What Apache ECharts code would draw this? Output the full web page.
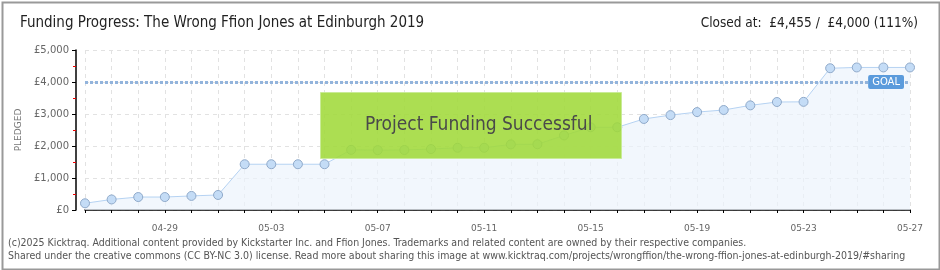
<!DOCTYPE html>
<html>
<head>
<meta charset="utf-8">
<script src="https://cdn.jsdelivr.net/npm/echarts@6/dist/echarts.min.js"></script>
<style>
  html, body { margin: 0; padding: 0; background: #fff; }
  #chart { width: 940px; height: 270px; }
</style>
</head>
<body>
<div id="chart"></div>
<script>
// daily pledged totals (GBP)
const dates = [
  '04-26', '04-27', '04-28', '04-29', '04-30', '05-01', '05-02', '05-03',
  '05-04', '05-05', '05-06', '05-07', '05-08', '05-09', '05-10', '05-11',
  '05-12', '05-13', '05-14', '05-15', '05-16', '05-17', '05-18', '05-19',
  '05-20', '05-21', '05-22', '05-23', '05-24', '05-25', '05-26', '05-27'
];
const pledged = [
  210, 330, 405, 405, 440, 470, 1430, 1430,
  1430, 1430, 1880, 1870, 1875, 1905, 1945, 1945,
  2050, 2055, 2330, 2585, 2585, 2845, 2965, 3060,
  3125, 3270, 3375, 3380, 4430, 4455, 4455, 4455
];
const goal = 4000;
const yMax = 5000;
const yStep = 1000;

const titleText = 'Funding Progress: The Wrong Ffion Jones at Edinburgh 2019';
const statusText = 'Closed at:  £4,455 /  £4,000 (111%)';
const footer1 = '(c)2025 Kicktraq. Additional content provided by Kickstarter Inc. and Ffion Jones. Trademarks and related content are owned by their respective companies.';
const footer2 = 'Shared under the creative commons (CC BY-NC 3.0) license. Read more about sharing this image at www.kicktraq.com/projects/wrongffion/the-wrong-ffion-jones-at-edinburgh-2019/#sharing';

const fontMain = '"Liberation Sans Narrow", "DejaVu Sans Condensed", sans-serif';

const chart = echarts.init(document.getElementById('chart'));

chart.setOption({
  animation: false,
  title: [
    {
      text: titleText,
      left: 15,
      top: 11,
      textStyle: { fontFamily: fontMain, fontSize: 15, fontWeight: 'normal', color: '#222' }
    },
    {
      text: statusText,
      right: 17,
      top: 11,
      textStyle: { fontFamily: fontMain, fontSize: 13.5, fontWeight: 'normal', color: '#222' }
    },
    {
      text: footer1 + '\n' + footer2,
      left: 3,
      top: 232,
      textStyle: { fontFamily: fontMain, fontSize: 10.5, fontWeight: 'normal', color: '#555', lineHeight: 13 }
    }
  ],
  grid: { left: 85, right: 30, top: 50, bottom: 60 },
  xAxis: {
    type: 'category',
    data: dates,
    boundaryGap: false,
    offset: 10,
    axisLine: { lineStyle: { color: '#000', width: 1.5 } },
    axisTick: { interval: 0, length: 3, lineStyle: { color: '#000' } },
    axisLabel: {
      interval: (i) => (i - 3) % 4 === 0,
      color: '#666',
      fontSize: 9,
      margin: 4,
      fontFamily: 'DejaVu Sans'
    },
    splitLine: { show: true, interval: 0, lineStyle: { color: '#e2e2e2', type: [4, 4] } }
  },
  yAxis: {
    type: 'value',
    min: 0,
    max: yMax,
    interval: yStep,
    offset: 9,
    name: 'PLEDGED',
    nameLocation: 'middle',
    nameGap: 47,
    nameTextStyle: { color: '#777', fontSize: 9, fontFamily: 'DejaVu Sans' },
    axisLine: { show: true, lineStyle: { color: '#000', width: 1.5 } },
    axisTick: { show: true, length: 4, lineStyle: { color: '#000' } },
    minorTick: { show: true, splitNumber: 2, length: 3, lineStyle: { color: '#e00' } },
    axisLabel: {
      color: '#666',
      fontSize: 10,
      margin: 7,
      fontFamily: 'DejaVu Sans',
      formatter: (v) => '£' + v.toLocaleString('en-GB')
    },
    splitLine: { show: true, lineStyle: { color: '#e2e2e2', type: [4, 4] } }
  },
  series: [
    {
      type: 'line',
      data: pledged,
      symbol: 'circle',
      symbolSize: 9,
      lineStyle: { color: '#b5d2f2', width: 1 },
      itemStyle: { color: '#c4dcf6', borderColor: '#8fa9c9', borderWidth: 1 },
      areaStyle: { color: '#edf4fc' },
      markLine: {
        silent: true,
        symbol: 'none',
        lineStyle: { color: '#93b4dc', type: [3, 2], width: 3 },
        label: {
          show: true,
          position: 'insideEnd',
          distance: [6, -7],
          formatter: 'GOAL',
          color: '#fff',
          fontSize: 10,
          fontFamily: 'DejaVu Sans',
          backgroundColor: '#5b9bdc',
          padding: [2, 4, 2, 4],
          borderRadius: 2
        },
        data: [{ yAxis: goal }]
      }
    }
  ],
  graphic: [
    {
      type: 'rect',
      left: 320,
      top: 92,
      z: 100,
      shape: { width: 301, height: 66 },
      style: { fill: 'rgba(160, 218, 58, 0.88)', stroke: 'rgba(200, 235, 150, 0.9)', lineWidth: 1 }
    },
    {
      type: 'text',
      left: 365,
      top: 116,
      z: 101,
      style: {
        text: 'Project Funding Successful',
        fill: '#4a4a4a',
        font: '19px ' + fontMain,
        textShadowColor: '#fff',
        textShadowOffsetX: 1,
        textShadowOffsetY: 1
      }
    },
    {
      type: 'rect',
      left: 0,
      top: 0,
      z: 200,
      silent: true,
      shape: { x: 1, y: 1, width: 937, height: 267 },
      style: { fill: 'none', stroke: '#999', lineWidth: 2 }
    }
  ]
});
</script>
</body>
</html>
